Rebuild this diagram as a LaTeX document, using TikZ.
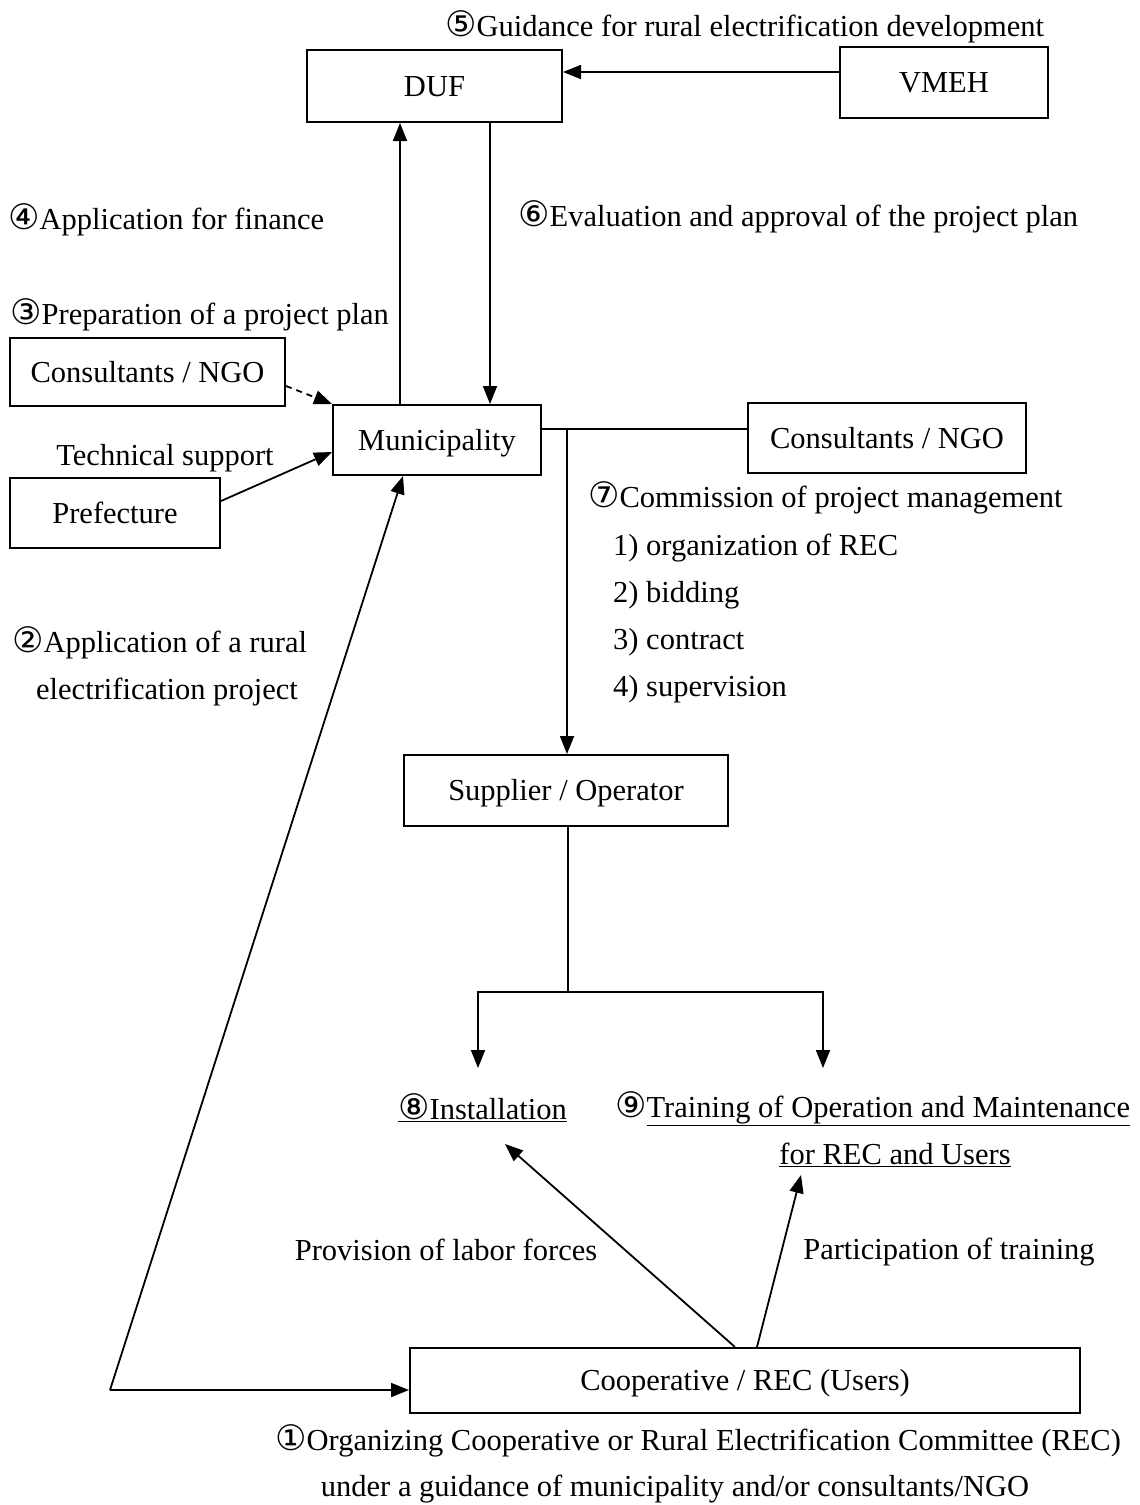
\documentclass[tikz,border=0pt]{standalone}
\usepackage{fontspec}
\setmainfont{Liberation Serif}
\newfontfamily\cfont{DejaVu Sans}[Scale=1.15]
\usetikzlibrary{arrows.meta}
\newcommand{\cn}[1]{{\cfont #1}}
\begin{document}
\begin{tikzpicture}[x=1pt,y=-1pt,
  font=\fontsize{30.5}{36}\selectfont,
  box/.style={draw, line width=2pt, inner sep=0pt, text height=20pt, text depth=0pt},
  lbl/.style={inner sep=0pt, anchor=base west},
  clbl/.style={inner sep=0pt, anchor=base},
  arr/.style={line width=1.8pt, -{Triangle[length=18pt,width=14pt]}},
  con/.style={line width=1.8pt}]
\useasboundingbox (0,0) rectangle (1140,1505);

% boxes
\node[box, minimum width=255pt, minimum height=72pt] (duf) at (434.5,86) {DUF};
\node[box, minimum width=208pt, minimum height=71pt] (vmeh) at (944,82.5) {VMEH};
\node[box, minimum width=275pt, minimum height=68pt] (consL) at (147.5,372) {Consultants / NGO};
\node[box, minimum width=208pt, minimum height=70pt] (muni) at (437,440) {Municipality};
\node[box, minimum width=210pt, minimum height=70pt] (pref) at (115,513) {Prefecture};
\node[box, minimum width=278pt, minimum height=70pt] (consR) at (887,438) {Consultants / NGO};
\node[box, minimum width=324pt, minimum height=71pt] (sup) at (566,790.5) {Supplier / Operator};
\node[box, minimum width=670pt, minimum height=65pt] (coop) at (745,1380.5) {Cooperative / REC (Users)};

% labels
\node[lbl] (l5) at (445,36) {\cn{⑤}Guidance for rural electrification development};
\node[lbl] (l4) at (8,229) {\cn{④}Application for finance};
\node[lbl] (l6) at (518,226) {\cn{⑥}Evaluation and approval of the project plan};
\node[lbl] (l3) at (10,324) {\cn{③}Preparation of a project plan};
\node[clbl] (lts) at (165,465) {Technical support};
\node[lbl] (l7) at (588,507) {\cn{⑦}Commission of project management};
\node[lbl] (l7a) at (613,555) {1) organization of REC};
\node[lbl] (l7b) at (613,602) {2) bidding};
\node[lbl] (l7c) at (613,649) {3) contract};
\node[lbl] (l7d) at (613,696) {4) supervision};
\node[lbl] (l2) at (12,652) {\cn{②}Application of a rural};
\node[clbl] (l2b) at (167,699) {electrification project};
\node[lbl] (l8) at (398,1119) {\underline{\cn{⑧}Installation}};
\node[lbl] (l9) at (615,1117) {\cn{⑨}\underline{Training of Operation and Maintenance}};
\node[clbl] (l9b) at (895,1164) {\underline{for REC and Users}};
\node[clbl] (lpl) at (446,1260) {Provision of labor forces};
\node[clbl] (lpt) at (949,1259) {Participation of training};
\node[lbl] (l1) at (275,1450) {\cn{①}Organizing Cooperative or Rural Electrification Committee (REC)};
\node[clbl] (l1b) at (675,1496) {under a guidance of municipality and/or consultants/NGO};

% connectors
\draw[arr] (vmeh.west |- 0,72) -- (duf.east |- 0,72);
\draw[arr] (muni.north -| 400,0) -- (duf.south -| 400,0);
\draw[arr] (duf.south -| 490,0) -- (muni.north -| 490,0);
\draw[arr, dashed, dash pattern=on 6pt off 5pt] (consL.east |- 0,386) -- (muni.north west);
\draw[arr] (pref.east |- 0,501) -- (muni.west |- 0,452);
\draw[con] (muni.east |- 0,429) -- (consR.west |- 0,429);
\coordinate (j1) at (567,429);
\draw[arr] (j1) -- (sup.north -| j1);
\coordinate (j2) at (568,992);
\coordinate (t8) at (478,1068);
\coordinate (t9) at (823,1068);
\draw[con] (sup.south -| j2) -- (j2);
\draw[arr] (j2) -| (t8);
\draw[arr] (j2) -| (t9);
\coordinate (h8) at (505,1144);
\coordinate (h9) at (801,1175);
\draw[arr] (coop.north -| 735,0) -- (h8);
\draw[arr] (coop.north -| 757,0) -- (h9);
\coordinate (c2) at (110,1390);
\draw[arr] (c2) -- (coop.west |- c2);
\draw[arr] (c2) -- (muni.south -| 403,0);
\end{tikzpicture}
\end{document}
